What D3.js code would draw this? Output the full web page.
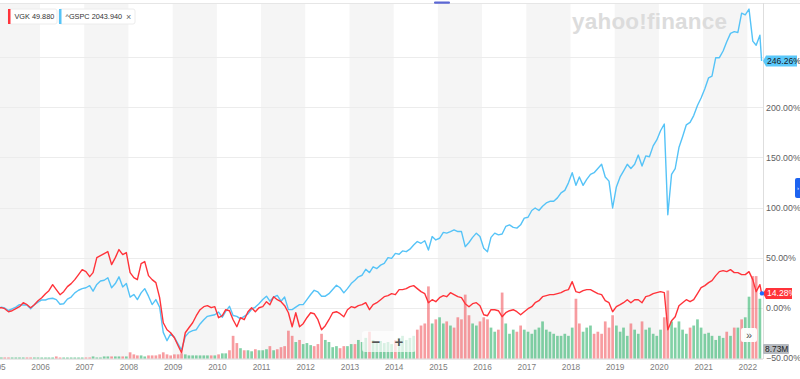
<!DOCTYPE html>
<html><head><meta charset="utf-8">
<script src="https://cdn.jsdelivr.net/npm/d3@7"></script>
<style>
body{margin:0;background:#fff;}
svg{display:block;font-family:Arial,"Liberation Sans",sans-serif;}
</style>
</head><body>
<svg id="c" width="800" height="379"></svg>
<script>
// ---------- DATA ----------
const seriesNames = ["VGK", "^GSPC"];
const legendValues = ["49.880", "2043.940"];
const startDate = "2005-02-04";
const endDate = "2022-04-29";
const firstMonth = "2005-02";   // monthly (mid-month) points from here
const lastMonth = "2022-04";    // ... to here
// VGK % change, one value per month (Feb 2005 .. Apr 2022)
const vgkPct = [
  0,-1,-4,-3,-1,1,5,3,0,3,7,
  10,14,17,23,18,13,16,21,24,28,33,38,
  36,31,35,50,52,54,56,43,50,58,53,55,
  35,30,28,44,46,32,28,25,10,-15,-22,-25,
  -30,-38,-45,-25,-20,-15,-8,-2,1,2,0,1,
  -10,-8,-2,-3,-12,-19,-10,-12,-4,0,-4,0,
  1,6,3,11,8,6,2,-5,-19,-5,-19,-16,
  -10,-5,-6,-12,-22,-18,-12,-5,-4,-6,-9,-2,
  1,0,2,3,5,-2,3,5,8,11,12,14,
  13,18,18,19,21,22,19,16,14,5,8,6,
  10,12,11,15,13,11,10,4,1,4,5,2,
  -7,-8,-2,-2,-3,-9,-5,-3,-2,-4,-7,-4,
  -1,1,5,7,11,12,13,13,14,15,17,18,
  26,16,15,17,18,18,16,14,13,7,5,-4,
  1,3,5,8,5,8,8,5,11,12,14,15,
  16,15,-22,-13,-9,2,5,8,6,8,14,20,
  22,25,27,32,36,37,36,38,35,35,33,33,
  36,28,16,23
];
// ^GSPC % change, one value per month (Feb 2005 .. Apr 2022)
const spxPct = [
  0.6,-0.3,-2.8,-1.1,0.6,3.1,2.7,2.7,-1.1,3.1,5.6,
  7.7,7.7,9.0,9.4,8.1,3.5,3.9,8.5,10.6,14.8,17.4,19.0,
  19.9,22.0,16.5,23.2,26.6,27.4,29.9,19.9,24.1,30.8,20.7,24.1,
  10.6,13.2,8.1,14.8,19.0,11.5,3.1,8.1,0.6,-24.6,-32.9,-26.2,
  -29.6,-36.3,-42.2,-28.8,-24.6,-22.9,-22.0,-16.2,-12.0,-8.6,-7.8,-7.0,
  -4.4,-9.5,-3.6,1.4,-7.8,-8.6,-11.1,-8.6,-6.1,-1.5,0.6,3.9,
  8.1,11.5,6.5,10.6,12.3,6.5,10.6,-1.9,-1.9,0.6,3.1,3.1,
  8.1,13.2,17.4,15.7,11.5,11.5,14.0,18.2,22.4,19.9,14.8,19.0,
  24.1,27.4,30.8,32.4,38.3,35.0,40.8,39.1,42.5,44.2,50.0,49.2,
  54.2,53.4,56.7,55.9,58.4,62.6,66.0,64.3,66.8,57.6,71.0,67.6,
  69.3,75.2,74.4,76.0,77.7,76.0,76.0,60.9,65.1,70.2,74.4,71.0,
  59.3,55.9,70.2,74.4,72.7,73.5,81.1,82.7,80.2,79.4,82.7,89.4,
  90.3,97.0,99.5,97.0,101.2,104.5,106.2,106.2,109.6,114.6,117.1,124.6,
  134.7,122.1,130.5,122.1,128.0,133.0,134.7,138.9,143.1,130.5,126.3,99.5,
  120.5,130.5,136.4,143.1,138.9,143.1,152.3,141.4,151.5,150.6,161.5,167.4,
  176.6,183.3,92.8,133.0,138.9,159.8,170.7,182.5,185.0,191.7,201.8,209.3,
  218.5,229.4,231.1,249.5,249.5,256.2,265.5,273.8,275.5,274.7,294.0,292.3,
  298.0,266.0,262.0,272.0
];
const vgkLast = 14.28, spxLast = 246.26;
// VGK volume (millions), one value per month
const volM = [
  1,1,1,1,1,1,1,1,1,1,1,
  1,1,1,1,2,1,1,1,1,1,1,1,
  1,1,2,1,1,2,2,2,2,2,2,2,
  6,4,3,3,2,3,3,3,4,6,4,3,
  4,4,5,4,3,3,3,3,3,3,3,3,
  4,5,5,8,22,15,10,8,8,7,9,8,
  8,9,12,8,9,11,12,27,22,16,18,14,
  15,13,12,14,24,18,16,11,12,10,12,12,
  14,14,18,16,20,26,18,15,17,15,16,14,
  18,20,22,18,20,22,28,32,34,70,34,38,
  40,34,36,32,30,40,38,62,42,34,32,36,
  40,38,30,26,28,64,34,24,28,26,32,28,
  26,24,28,30,36,28,26,24,22,22,24,22,
  30,58,34,26,30,32,24,26,24,36,30,42,
  32,26,30,22,34,28,24,36,28,30,24,22,
  28,40,66,36,30,36,28,24,30,32,38,30,
  24,25,22,18,22,20,26,22,30,30,38,40,
  60,80,80,58
];
const lastVolume = "8.73M";
const yTicks = [-50, 0, 50, 100, 150, 200, 250];
const yLabelTicks = [-50, 0, 50, 100, 150, 200];
const yearTicks = d3.range(2005, 2023);

// ---------- COLORS ----------
const RED = "#ff333a", BLUE = "#55c3f7", VRED = "#f25a60", VGREEN = "#2fb36a";

// ---------- SCALES ----------
const parse = d3.timeParse("%Y-%m-%d");
const pm = d3.timeParse("%Y-%m");
const t0 = parse(startDate), t1 = parse(endDate);
const plotL = 0, plotR = 761.6, plotT = 3, plotB = 359, axisX = 763;
const x = d3.scaleTime().domain([t0, t1]).range([plotL, plotR]);
const y = d3.scaleLinear().domain([-50, 250]).range([357.8, 57.2]);
const vy = d3.scaleLinear().domain([0, 100]).range([358.5, 255.5]);

const months = d3.timeMonth.range(pm(firstMonth), d3.timeMonth.offset(pm(lastMonth), 1));
const mid = months.map(m => d3.timeDay.offset(m, 14));

function pts(arr, last) {
  const p = [{d: t0, v: 0}];
  arr.forEach((v, i) => p.push({d: mid[i], v}));
  p.push({d: t1, v: last});
  return p;
}
const vgkPts = pts(vgkPct, vgkLast);
const spxPts = pts(spxPct, spxLast);

const svg = d3.select("#c");
svg.append("rect").attr("width", 800).attr("height", 379).attr("fill", "#fff");

// alternating year bands
const bands = yearTicks.filter(yr => yr % 2 === 1);
svg.append("g").selectAll("rect").data(bands).join("rect")
  .attr("x", d => Math.max(plotL, x(new Date(d, 0, 1))))
  .attr("width", d => Math.min(axisX, x(new Date(d + 1, 0, 1))) - Math.max(plotL, x(new Date(d, 0, 1))))
  .attr("y", plotT).attr("height", plotB - plotT)
  .attr("fill", "#f5f5f5");

// top border
svg.append("line").attr("x1", 0).attr("x2", 800).attr("y1", 3.5).attr("y2", 3.5)
  .attr("stroke", "#e6e6e6").attr("stroke-width", 1);
svg.append("rect").attr("x", 434).attr("y", 1.5).attr("width", 16).attr("height", 2.2)
  .attr("fill", "#5b67d3").attr("rx", 1);

// gridlines
svg.append("g").selectAll("line").data(yTicks).join("line")
  .attr("x1", plotL).attr("x2", axisX)
  .attr("y1", d => Math.round(y(d)) + 0.5).attr("y2", d => Math.round(y(d)) + 0.5)
  .attr("stroke", "#ececec").attr("stroke-width", 1);

// watermark
svg.append("text").attr("x", 572).attr("y", 28.5)
  .attr("font-size", 22.5).attr("font-weight", "bold")
  .attr("fill", "#dcdcdc").attr("textLength", 155)
  .text("yahoo!finance");

// volume bars
const bw = 2.7;
svg.append("g").selectAll("rect").data(volM).join("rect")
  .attr("x", (d, i) => x(mid[i]) - bw / 2)
  .attr("width", bw)
  .attr("y", d => vy(d))
  .attr("height", d => vy(0) - vy(d))
  .attr("fill", (d, i) => (i === 0 || vgkPct[i] >= vgkPct[i - 1]) ? VGREEN : VRED)
  .attr("opacity", 0.6);

// lines
const line = d3.line().x(d => x(d.d)).y(d => y(d.v)).curve(d3.curveLinear);
svg.append("path").datum(spxPts).attr("d", line)
  .attr("fill", "none").attr("stroke", BLUE).attr("stroke-width", 1.4).attr("stroke-linejoin", "round");
svg.append("path").datum(vgkPts).attr("d", line)
  .attr("fill", "none").attr("stroke", RED).attr("stroke-width", 1.4).attr("stroke-linejoin", "round");

// x axis baseline
svg.append("line").attr("x1", 0).attr("x2", axisX).attr("y1", plotB + 0.5).attr("y2", plotB + 0.5)
  .attr("stroke", "#e8e8e8");
// right axis line
svg.append("line").attr("x1", axisX + 0.5).attr("x2", axisX + 0.5).attr("y1", plotT).attr("y2", plotB)
  .attr("stroke", "#dedede");

// x labels
const xAxis = d3.axisBottom(x).tickValues(yearTicks.map(yr => new Date(yr, 0, 1)))
  .tickFormat(d3.timeFormat("%Y")).tickSize(0).tickPadding(0);
const gx = svg.append("g").attr("transform", `translate(0,${plotB + 5})`).call(xAxis);
gx.select(".domain").remove();
gx.selectAll("text").attr("font-size", 8.3).attr("fill", "#7d7d7d").attr("dy", "0.71em")
  .attr("font-family", "Arial, 'Liberation Sans', sans-serif");

// y labels (right)
const yAxis = d3.axisRight(y).tickValues(yLabelTicks).tickFormat(d => d3.format(".2f")(d) + "%")
  .tickSize(0).tickPadding(0);
const gy = svg.append("g").attr("transform", `translate(${axisX + 3},0)`).call(yAxis);
gy.select(".domain").remove();
gy.selectAll("text").attr("font-size", 8.8).attr("fill", "#5f5f5f")
  .attr("font-family", "Arial, 'Liberation Sans', sans-serif");

// current value tags
function tag(v, fill, color, text, w) {
  const yy = y(v);
  const g = svg.append("g");
  g.append("path").attr("d", `M${axisX},${yy} L${axisX + 3},${yy - 5.5} H${axisX + 3 + w} V${yy + 5.5} H${axisX + 3} Z`)
    .attr("fill", fill);
  g.append("text").attr("x", axisX + 4).attr("y", yy).attr("dy", "0.35em")
    .attr("font-size", 8.6).attr("fill", color).text(text);
}
tag(spxLast, "#5ac8fa", "#1a1a1a", d3.format(".2f")(spxLast) + "%", 31);
tag(vgkLast, RED, "#fff", d3.format(".2f")(vgkLast) + "%", 26);
svg.append("circle").attr("cx", axisX - 1).attr("cy", y(vgkLast)).attr("r", 2.2).attr("fill", "#1f6bff");

// volume tag
svg.append("rect").attr("x", axisX).attr("y", vy(8.73) - 5.5).attr("width", 26).attr("height", 10)
  .attr("fill", "#b6bac0").attr("rx", 1);
svg.append("text").attr("x", axisX + 2).attr("y", vy(8.73)).attr("dy", "0.35em")
  .attr("font-size", 8.4).attr("fill", "#222").text(lastVolume);

// legend
const lg = [{n: seriesNames[0], v: legendValues[0], c: RED, x: 8, w: 49, close: false},
            {n: seriesNames[1], v: legendValues[1], c: BLUE, x: 59, w: 76, close: true}];
lg.forEach(o => {
  const g = svg.append("g");
  g.append("rect").attr("x", o.x).attr("y", 9).attr("width", o.w).attr("height", 15)
    .attr("fill", "#fff").attr("stroke", "#ececec").attr("rx", 2);
  g.append("rect").attr("x", o.x).attr("y", 9).attr("width", 2.5).attr("height", 15).attr("fill", o.c);
  g.append("text").attr("x", o.x + 6.5).attr("y", 16.5).attr("dy", "0.35em")
    .attr("font-size", 7.3).attr("fill", "#333").text(o.n + " " + o.v);
  if (o.close) g.append("text").attr("x", o.x + o.w - 9).attr("y", 16.5).attr("dy", "0.35em")
    .attr("font-size", 9).attr("fill", "#666").text("×");
});

// zoom controls
svg.append("rect").attr("x", 362).attr("y", 331).attr("width", 54).attr("height", 21)
  .attr("fill", "#fff").attr("opacity", 0.7).attr("rx", 3);
svg.append("text").attr("x", 376).attr("y", 342).attr("dy", "0.35em").attr("text-anchor", "middle")
  .attr("font-size", 15).attr("font-weight", "bold").attr("fill", "#555").text("−");
svg.append("text").attr("x", 399).attr("y", 342).attr("dy", "0.35em").attr("text-anchor", "middle")
  .attr("font-size", 15).attr("font-weight", "bold").attr("fill", "#555").text("+");

// scroll button
svg.append("rect").attr("x", 741).attr("y", 328).attr("width", 16).attr("height", 14)
  .attr("fill", "#fff").attr("opacity", 0.95).attr("rx", 2);
svg.append("text").attr("x", 749).attr("y", 335).attr("dy", "0.35em").attr("text-anchor", "middle")
  .attr("font-size", 11).attr("fill", "#555").text("»");

// right side tab
svg.append("rect").attr("x", 795).attr("y", 178).attr("width", 8).attr("height", 20)
  .attr("fill", "#1d63f0").attr("rx", 2);
svg.append("text").attr("x", 798).attr("y", 188).attr("dy", "0.35em").attr("text-anchor", "middle")
  .attr("font-size", 6).attr("fill", "#fff").text("›");
</script>
</body></html>
